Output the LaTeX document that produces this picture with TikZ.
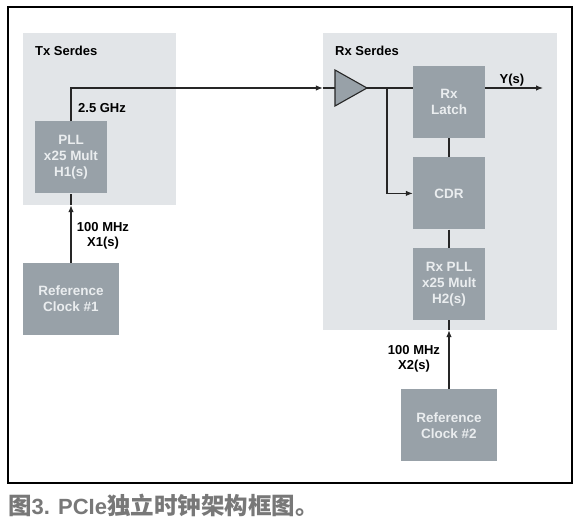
\documentclass[tikz,border=0pt]{standalone}
\usepackage{fontspec}
\setmainfont{Liberation Sans}
\newfontfamily\cjk{Noto Sans CJK SC}
\usepackage{tikz}
\usetikzlibrary{shapes,arrows,arrows.meta,positioning}
\definecolor{blockgray}{RGB}{152,161,168}
\definecolor{serdesgray}{RGB}{226,229,232}
\definecolor{blocktext}{RGB}{234,237,239}
\definecolor{captiongray}{RGB}{120,120,120}

\begin{document}
\begin{tikzpicture}[x=1pt, y=1pt, >={Latex[length=7pt,width=5.5pt]},
                   block/.style={fill=blockgray, text=blocktext, align=center,
                                 font=\bfseries\fontsize{13.5}{16}\selectfont,
                                 minimum width=72pt, minimum height=72pt, inner sep=0pt},
                   refblock/.style={block, minimum width=96pt},
                   serdes/.style={fill=serdesgray, inner sep=0pt},
                   lbl/.style={font=\bfseries\fontsize{13}{15}\selectfont, align=center, inner sep=0pt},
                   wire/.style={line width=1.1pt, draw=black!85}]
          \useasboundingbox (0,0) rectangle (580,525);
          % outer frame
          \draw[line width=1.6pt] (8,42) rectangle (572,518);
          % serdes areas
          \node (txbox) [serdes, minimum width=153pt, minimum height=172pt] at (99.5,406) {};
          \node (rxbox) [serdes, minimum width=234pt, minimum height=297pt] at (440,343.5) {};
          \node [lbl, anchor=west] at (35,474) {Tx Serdes};
          \node [lbl, anchor=west] at (335,474) {Rx Serdes};
          % blocks
          \node (pll) [block] at (71,367.5) {PLL\\x25 Mult\\H1(s)};
          \node (ref1) [refblock, below=69pt of pll] {Reference\\Clock \#1};
          \node (rxlatch) [block] at (449,423) {Rx\\Latch};
          \node (cdr) [block, below=19pt of rxlatch] {CDR};
          \node (rxpll) [block, below=18pt of cdr] {Rx PLL\\x25 Mult\\H2(s)};
          \node (ref2) [refblock, below=69pt of rxpll] {Reference\\Clock \#2};
          % amplifier
          \draw[wire, fill=blockgray] (335,455) -- (367,437) -- (335,419) -- cycle;
          \coordinate (ampin) at (335,437);
          \coordinate (ampout) at (367,437);
          \coordinate (split) at (387,437);
          \coordinate (yout) at (543,437);
          % connections
          \draw[wire, ->] (ref1) -- (ref1 |- txbox.south);
          \draw[wire] (ref1 |- txbox.south) -- (pll);
          \draw[wire, ->] (pll.north) |- (rxbox.west |- ampin);
          \draw[wire] (rxbox.west |- ampin) -- (ampin);
          \draw[wire] (ampout) -- (rxlatch.west |- ampout);
          \draw[wire, ->] (split) |- (cdr.west);
          \draw[wire, ->] (rxlatch.east |- yout) -- (yout);
          \draw[wire] (rxlatch) -- (cdr);
          \draw[wire] (cdr) -- (rxpll);
          \draw[wire, ->] (ref2) -- (ref2 |- rxbox.south);
          \draw[wire] (ref2 |- rxbox.south) -- (rxpll);
          % labels
          \node [lbl, anchor=west] at (78,417) {2.5 GHz};
          \node [lbl] at (103,289.5) {100 MHz\\X1(s)};
          \node [lbl] at (512,445) {Y(s)};
          \node [lbl] at (414,166) {100 MHz\\X2(s)};
          % caption
          \node [anchor=west, inner sep=0pt, text=captiongray, font=\bfseries\fontsize{22}{24}\selectfont] at (8,20)
            {{\cjk\fontsize{23.5}{24}\selectfont 图}3. PCIe{\cjk\fontsize{23.5}{24}\selectfont 独立时钟架构框图。}};
        \end{tikzpicture}
\end{document}
